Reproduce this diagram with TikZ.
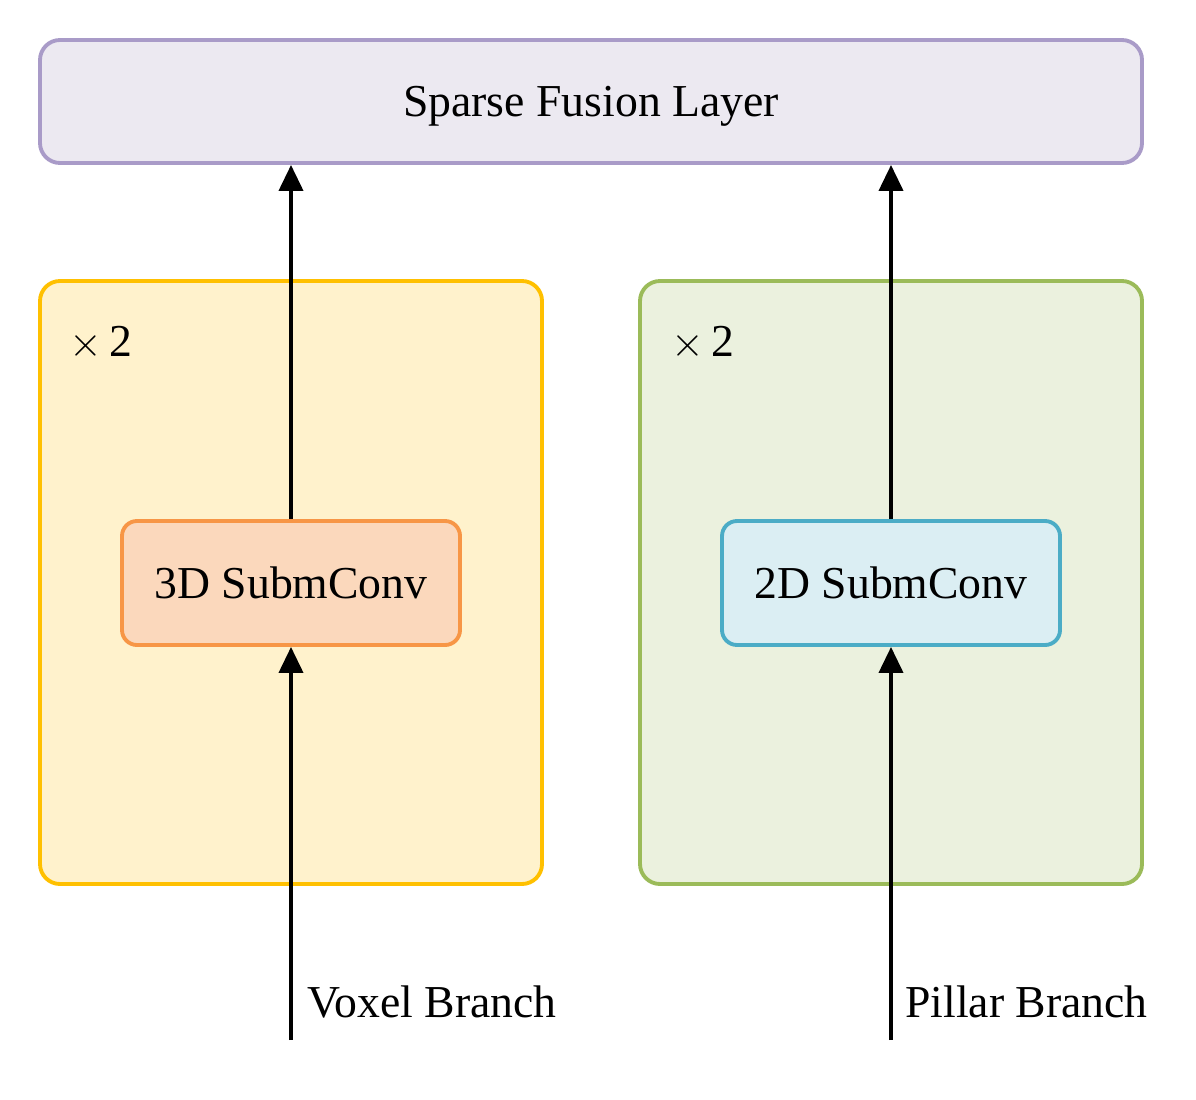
\documentclass[tikz,border=0pt]{standalone}
\usepackage{fontspec}
\setmainfont{Liberation Serif}
\usepackage{tikz}
\usetikzlibrary{arrows.meta,positioning}

\definecolor{fusefill}{HTML}{ECE9F1}
\definecolor{fusedraw}{HTML}{A99BC8}
\definecolor{voxfill}{HTML}{FFF2CC}
\definecolor{voxdraw}{HTML}{FFC000}
\definecolor{pilfill}{HTML}{EBF1DE}
\definecolor{pildraw}{HTML}{9BBB59}
\definecolor{convAfill}{HTML}{FBD8BC}
\definecolor{convAdraw}{HTML}{F79646}
\definecolor{convBfill}{HTML}{DBEEF3}
\definecolor{convBdraw}{HTML}{4BACC6}

\begin{document}
\begin{tikzpicture}[
    panel/.style={draw, rectangle, line width=1.1pt, rounded corners=0.2cm, minimum width=5.02cm, minimum height=6.03cm},
    conv/.style={draw, rectangle, line width=1.1pt, rounded corners=0.15cm, minimum width=3.38cm, minimum height=1.24cm, font=\fontsize{13}{15}\selectfont},
    lbl/.style={font=\fontsize{13}{15}\selectfont},
    flow/.style={-{Triangle[width=0.24cm,length=0.26cm]}, line width=1.1pt}
]
\useasboundingbox (0,0) rectangle (11.96,10.99);

\node[draw=fusedraw, fill=fusefill, line width=1.1pt, rounded corners=0.2cm, minimum width=11.02cm, minimum height=1.23cm, text depth=0pt, font=\fontsize{13}{15}\selectfont] (fuse) at (5.91,9.975) {Sparse Fusion Layer};

\node[panel, draw=voxdraw, fill=voxfill] (vox) at (2.91,5.165) {};
\node[panel, draw=pildraw, fill=pilfill] (pil) at (8.91,5.165) {};

\node[lbl] (vrep) at (1.01,7.56) {$\times$\,2};
\node[lbl] (prep) at (7.03,7.56) {$\times$\,2};

\node[conv, draw=convAdraw, fill=convAfill] (c3d) at (2.91,5.16) {3D SubmConv};
\node[conv, draw=convBdraw, fill=convBfill] (c2d) at (8.91,5.16) {2D SubmConv};

\coordinate (vin) at (2.91,0.59);
\coordinate (pin) at (8.91,0.59);
\node[lbl, anchor=west] (vname) at (2.95,0.97) {Voxel Branch};
\node[lbl, anchor=west] (pname) at (8.93,0.97) {Pillar Branch};

\draw[flow] (vin) -- (c3d);
\draw[flow] (pin) -- (c2d);
\draw[flow] (c3d) -- (c3d |- fuse.south);
\draw[flow] (c2d) -- (c2d |- fuse.south);
\end{tikzpicture}
\end{document}
